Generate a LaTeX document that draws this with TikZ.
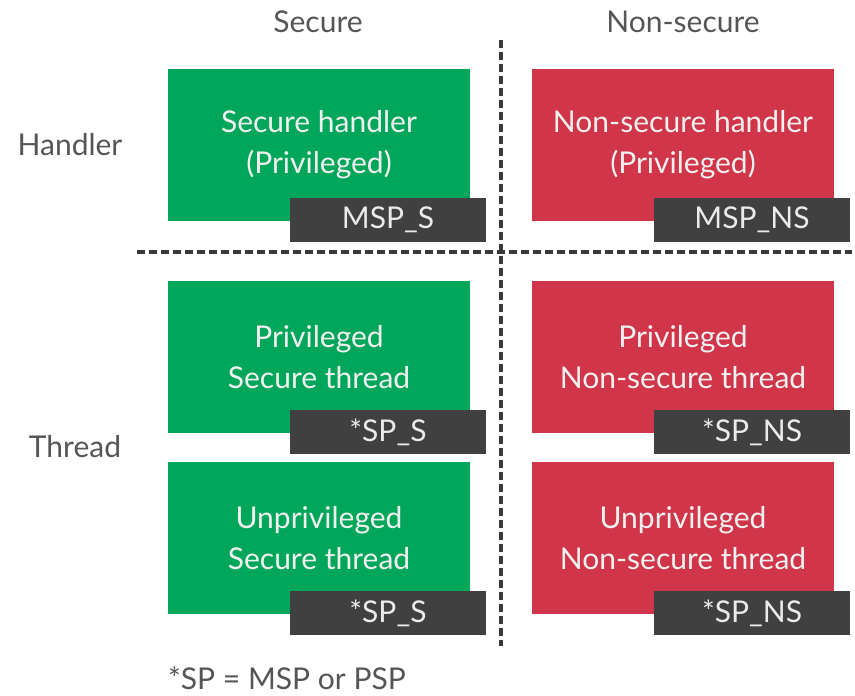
\documentclass[tikz,border=0pt]{standalone}
\usepackage{fontspec}
\setmainfont{Lato}
\usetikzlibrary{positioning}

\definecolor{secgreen}{HTML}{00A65A}
\definecolor{nsred}{HTML}{D0354A}
\definecolor{tagdark}{HTML}{404040}
\definecolor{labelgrey}{HTML}{555555}
\definecolor{divgrey}{HTML}{3A3A3A}

\begin{document}
\begin{tikzpicture}[%
    x=1pt, y=-1pt,
    font=\fontsize{30}{41}\selectfont,
    mode/.style={minimum width=302pt, minimum height=152pt, inner sep=0pt,
                 align=center, text=white!94!black},
    secure/.style={mode, fill=secgreen},
    nonsecure/.style={mode, fill=nsred},
    sptag/.style={fill=tagdark, text=white!92!black, minimum width=196pt,
                  minimum height=44pt, inner sep=0pt, anchor=south east},
    heading/.style={text=labelgrey},
    divider/.style={divgrey, line width=3.5pt, dash pattern=on 8pt off 4pt}
  ]
    \useasboundingbox (0,0) rectangle (855,696);

    % column and row headings
    \node[heading] (colS)  at (318,22)  {Secure};
    \node[heading] (colNS) at (683,22)  {Non-secure};
    \node[heading] (rowH)  at (70,145)  {Handler};
    \node[heading] (rowT)  at (75,447)  {Thread};

    % secure side
    \node[secure] (sh) at (319,145) {Secure handler\\(Privileged)};
    \node[secure] (st) at (319,357) {Privileged\\Secure thread};
    \node[secure] (su) at (319,538) {Unprivileged\\Secure thread};

    % non-secure side
    \node[nonsecure] (nh) at (683,145) {Non-secure handler\\(Privileged)};
    \node[nonsecure] (nt) at (683,357) {Privileged\\Non-secure thread};
    \node[nonsecure] (nu) at (683,538) {Unprivileged\\Non-secure thread};

    % stack pointer tags
    \node[sptag] (shsp) at ([shift={(16,21)}]sh.south east) {MSP\_S};
    \node[sptag] (stsp) at ([shift={(16,21)}]st.south east) {*SP\_S};
    \node[sptag] (susp) at ([shift={(16,21)}]su.south east) {*SP\_S};
    \node[sptag] (nhsp) at ([shift={(16,21)}]nh.south east) {MSP\_NS};
    \node[sptag] (ntsp) at ([shift={(16,21)}]nt.south east) {*SP\_NS};
    \node[sptag] (nusp) at ([shift={(16,21)}]nu.south east) {*SP\_NS};

    % dividers
    \coordinate (vtop) at (501,40);
    \coordinate (vbot) at (501,646);
    \coordinate (hleft) at (137,252);
    \coordinate (hright) at (852,252);
    \draw[divider] (vtop) -- (vbot);
    \draw[divider] (hleft) -- (hright);

    \node[heading, anchor=base west, inner sep=0pt] (note) at (168,689) {*SP = MSP or PSP};
\end{tikzpicture}
\end{document}
